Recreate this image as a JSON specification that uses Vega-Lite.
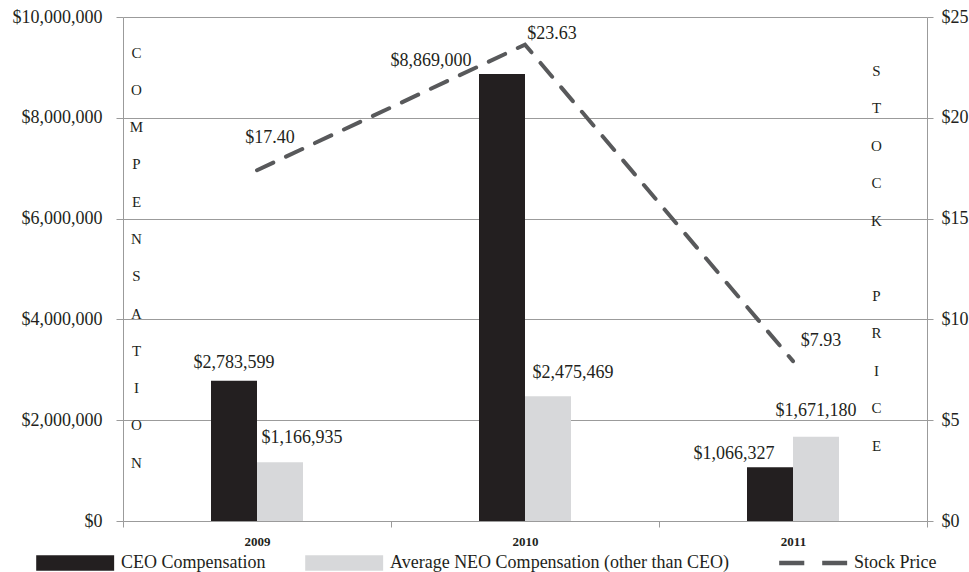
{
  "$schema": "https://vega.github.io/schema/vega-lite/v6.json",
  "width": 804,
  "height": 504,
  "autosize": {"type": "none"},
  "padding": {"left": 123, "top": 17, "right": 42, "bottom": 51},
  "background": "white",
  "config": {
    "view": {"stroke": null},
    "font": "Liberation Serif",
    "text": {"font": "Liberation Serif", "fontSize": 18, "color": "#231f20", "baseline": "middle", "align": "center"},
    "axis": {
      "labelFont": "Liberation Serif",
      "labelFontSize": 18,
      "labelColor": "#231f20",
      "titleFont": "Liberation Serif",
      "titleColor": "#231f20",
      "titleFontWeight": "normal",
      "domainColor": "#9b9b9b",
      "tickColor": "#9b9b9b",
      "gridColor": "#9b9b9b",
      "gridOpacity": 1
    }
  },
  "datasets": {
    "comp": [
      {"year": "2009", "series": "CEO Compensation", "value": 2783599},
      {"year": "2009", "series": "Average NEO Compensation (other than CEO)", "value": 1166935},
      {"year": "2010", "series": "CEO Compensation", "value": 8869000},
      {"year": "2010", "series": "Average NEO Compensation (other than CEO)", "value": 2475469},
      {"year": "2011", "series": "CEO Compensation", "value": 1066327},
      {"year": "2011", "series": "Average NEO Compensation (other than CEO)", "value": 1671180}
    ],
    "stock": [
      {"year": "2009", "price": 17.40},
      {"year": "2010", "price": 23.63},
      {"year": "2011", "price": 7.93}
    ]
  },
  "layer": [
    {
      "data": {"name": "comp"},
      "encoding": {
        "x": {
          "field": "year", "type": "nominal",
          "scale": {"paddingInner": 0, "paddingOuter": 0},
          "axis": {
            "title": null, "labelAngle": 0, "tickBand": "extent",
            "labelFontWeight": "bold", "labelFontSize": 13,
            "labelBaseline": "middle", "labelPadding": 14, "tickSize": 6,
            "domain": false
          }
        },
        "y": {
          "field": "value", "type": "quantitative",
          "scale": {"domain": [0, 10000000], "nice": false},
          "axis": {
            "orient": "left",
            "values": [0, 2000000, 4000000, 6000000, 8000000, 10000000],
            "format": "$,.0f",
            "grid": true,
            "tickSize": 7,
            "labelPadding": 14,
            "title": ["C", "O", "M", "P", "E", "N", "S", "A", "T", "I", "O", "N"],
            "titleAngle": 0,
            "titleX": 13,
            "titleY": 35,
            "titleAlign": "center",
            "titleBaseline": "middle",
            "titleLineHeight": 37.3,
            "titleFontSize": 15
          }
        },
        "color": {
          "field": "series", "type": "nominal",
          "scale": {
            "domain": ["CEO Compensation", "Average NEO Compensation (other than CEO)", "Stock Price"],
            "range": ["#231f20", "#d7d8da", "#58595b"]
          },
          "legend": {
            "orient": "none",
            "legendX": -88,
            "legendY": 537,
            "direction": "horizontal",
            "title": null,
            "padding": 0,
            "symbolSize": 243,
            "symbolStrokeWidth": 0,
            "labelOffset": 68,
            "columnPadding": 38,
            "labelFont": "Liberation Serif",
            "labelFontSize": 18,
            "labelColor": "#231f20",
            "labelLimit": 600,
            "encode": {
              "symbols": {
                "update": {
                  "shape": {"signal": "datum.value === 'Stock Price' ? 'M0.28,-0.3H3.5V0.3H0.28Z M5.8,-0.3H9V0.3H5.8Z' : 'M-1,-1H9V1H-1Z'"}
                }
              }
            }
          }
        }
      },
      "layer": [
        {
          "transform": [{"filter": "datum.series == 'CEO Compensation'"}],
          "mark": {"type": "bar", "width": 46, "xOffset": -23}
        },
        {
          "transform": [{"filter": "datum.series != 'CEO Compensation'"}],
          "mark": {"type": "bar", "width": 46, "xOffset": 23}
        },
        {
          "transform": [{"filter": "datum.year == '2009' && datum.series == 'CEO Compensation'"}],
          "mark": {"type": "text", "dx": -23, "dy": -18},
          "encoding": {"text": {"field": "value", "type": "quantitative", "format": "$,.0f"}, "color": {"value": "#231f20"}}
        },
        {
          "transform": [{"filter": "datum.year == '2009' && datum.series != 'CEO Compensation'"}],
          "mark": {"type": "text", "dx": 45, "dy": -24},
          "encoding": {"text": {"field": "value", "type": "quantitative", "format": "$,.0f"}, "color": {"value": "#231f20"}}
        },
        {
          "transform": [{"filter": "datum.year == '2010' && datum.series == 'CEO Compensation'"}],
          "mark": {"type": "text", "dx": -94, "dy": -13},
          "encoding": {"text": {"field": "value", "type": "quantitative", "format": "$,.0f"}, "color": {"value": "#231f20"}}
        },
        {
          "transform": [{"filter": "datum.year == '2010' && datum.series != 'CEO Compensation'"}],
          "mark": {"type": "text", "dx": 48, "dy": -23},
          "encoding": {"text": {"field": "value", "type": "quantitative", "format": "$,.0f"}, "color": {"value": "#231f20"}}
        },
        {
          "transform": [{"filter": "datum.year == '2011' && datum.series == 'CEO Compensation'"}],
          "mark": {"type": "text", "dx": -59, "dy": -13},
          "encoding": {"text": {"field": "value", "type": "quantitative", "format": "$,.0f"}, "color": {"value": "#231f20"}}
        },
        {
          "transform": [{"filter": "datum.year == '2011' && datum.series != 'CEO Compensation'"}],
          "mark": {"type": "text", "dx": 23, "dy": -26},
          "encoding": {"text": {"field": "value", "type": "quantitative", "format": "$,.0f"}, "color": {"value": "#231f20"}}
        }
      ]
    },
    {
      "data": {"name": "stock"},
      "encoding": {
        "x": {"field": "year", "type": "nominal"},
        "y": {
          "field": "price", "type": "quantitative",
          "scale": {"domain": [0, 25], "nice": false},
          "axis": {
            "orient": "right",
            "values": [0, 5, 10, 15, 20, 25],
            "format": "$,.0f",
            "grid": false,
            "tickSize": 6,
            "labelPadding": 8,
            "title": ["S", "T", "O", "C", "K", "\u200b", "P", "R", "I", "C", "E"],
            "titleAngle": 0,
            "titleX": -51,
            "titleY": 53,
            "titleAlign": "center",
            "titleBaseline": "middle",
            "titleLineHeight": 37.5,
            "titleFontSize": 15
          }
        }
      },
      "layer": [
        {
          "mark": {"type": "line", "color": "#58595b", "strokeWidth": 4, "strokeDash": [18, 14], "strokeCap": "round"}
        },
        {
          "transform": [{"filter": "datum.year == '2009'"}],
          "mark": {"type": "text", "dx": 13, "dy": -32},
          "encoding": {"text": {"field": "price", "type": "quantitative", "format": "$.2f"}}
        },
        {
          "transform": [{"filter": "datum.year == '2010'"}],
          "mark": {"type": "text", "dx": 27, "dy": -11},
          "encoding": {"text": {"field": "price", "type": "quantitative", "format": "$.2f"}}
        },
        {
          "transform": [{"filter": "datum.year == '2011'"}],
          "mark": {"type": "text", "dx": 28, "dy": -20},
          "encoding": {"text": {"field": "price", "type": "quantitative", "format": "$.2f"}}
        }
      ]
    }
  ],
  "resolve": {"scale": {"y": "independent"}}
}
